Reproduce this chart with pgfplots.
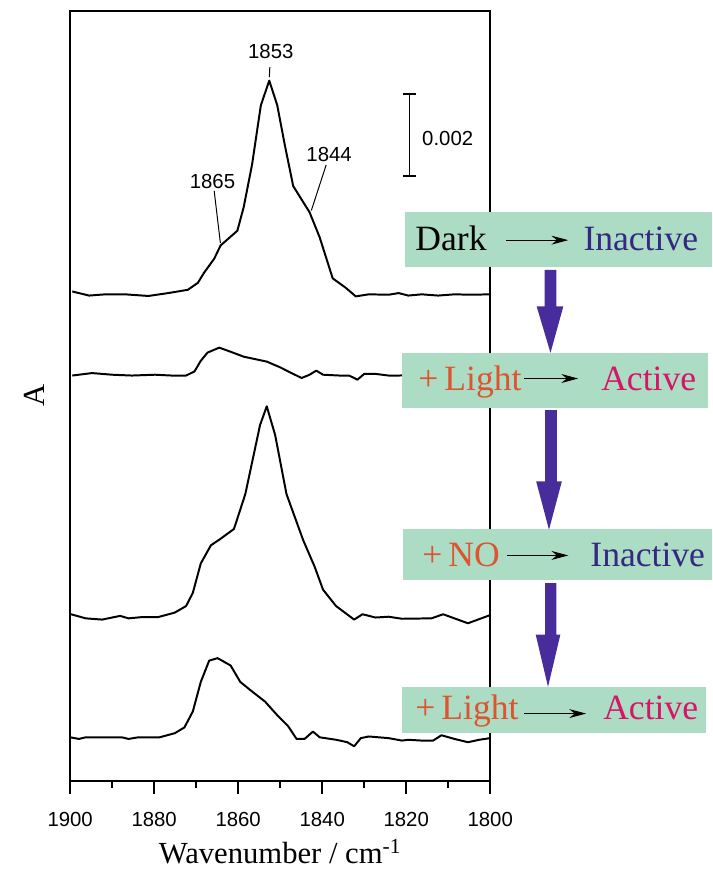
\documentclass[border=0pt]{standalone}
\usepackage{pgfplots}
\pgfplotsset{compat=1.18}
\usepackage{fontspec}
\setmainfont{Liberation Serif}
\setsansfont{Liberation Sans}
\usetikzlibrary{arrows.meta}
\definecolor{boxgreen}{RGB}{172,220,196}
\definecolor{inact}{RGB}{52,40,130}
\definecolor{lightc}{RGB}{222,84,48}
\definecolor{actc}{RGB}{214,20,104}
\definecolor{bigarrow}{RGB}{72,44,156}
\newcommand\boxfont{\fontsize{18}{20}\selectfont}
\newcommand\numfont{\sffamily\fontsize{10.3}{11}\selectfont}

\begin{document}
\begin{tikzpicture}
\begin{axis}[
  name=ax, at={(0,0)}, anchor=south west,
  scale only axis, width=212.5pt, height=389.5pt,
  xmin=1800, xmax=1900, x dir=reverse, ymin=0, ymax=18.771,
  xtick={1800,1820,1840,1860,1880,1900},
  minor xtick={1810,1830,1850,1870,1890},
  xtick pos=left, tick align=outside, ytick=\empty,
  major tick length=6.5pt, minor tick length=3.5pt,
  xtick style={line width=0.8pt, black},
  axis line style={line width=0.8pt},
  /pgf/number format/assume math mode=true,
  xticklabel style={font=\numfont, /pgf/number format/1000 sep={}, yshift=-6pt},
  xlabel={Wavenumber / cm\textsuperscript{-1}}, ylabel={A},
  label style={font=\fontsize{15.5}{16}\selectfont},
  xlabel style={at={(axis description cs:0.5,0)}, anchor=center, yshift=-36pt},
  ylabel style={at={(axis description cs:-0.0847,0.5)}, anchor=center},
]
% Dark
\addplot[black, line width=1pt, line join=round] coordinates {(1899.5,11.93)(1895.5,11.83)(1891.6,11.86)(1886.9,11.86)(1881.4,11.82)(1876.7,11.89)(1872.0,11.97)(1869.6,12.14)(1868.1,12.39)(1865.7,12.73)(1864.2,13.05)(1860.2,13.41)(1858.7,13.98)(1856.7,15.02)(1854.6,16.47)(1852.6,17.07)(1850.7,16.47)(1848.9,15.50)(1846.9,14.50)(1843.0,13.86)(1840.6,13.25)(1837.5,12.25)(1834.4,12.02)(1832.0,11.81)(1828.9,11.86)(1824.2,11.85)(1821.8,11.89)(1819.5,11.83)(1816.3,11.86)(1812.4,11.83)(1808.5,11.86)(1804.5,11.85)(1800.0,11.86)};
% + Light
\addplot[black, line width=1pt, line join=round] coordinates {(1899.5,9.88)(1894.8,9.94)(1890.0,9.90)(1885.3,9.88)(1879.8,9.90)(1875.9,9.88)(1872.4,9.88)(1870.4,9.98)(1868.9,10.24)(1867.3,10.44)(1864.5,10.56)(1861.8,10.46)(1858.7,10.34)(1853.2,10.22)(1850.0,10.08)(1847.7,9.96)(1844.9,9.82)(1843.0,9.90)(1841.4,10.00)(1839.8,9.90)(1835.9,9.88)(1833.6,9.88)(1831.6,9.78)(1830.0,9.92)(1827.3,9.92)(1824.2,9.88)(1821.8,9.88)(1815.0,9.90)(1808.0,9.86)(1800.0,9.88)};
% + NO
\addplot[black, line width=1pt, line join=round] coordinates {(1899.8,4.06)(1896.3,3.96)(1892.4,3.93)(1888.1,4.02)(1886.1,3.96)(1883.0,3.99)(1879.1,3.99)(1875.1,4.10)(1872.4,4.26)(1870.8,4.58)(1868.9,5.30)(1866.5,5.74)(1864.2,5.90)(1861.0,6.14)(1858.3,6.99)(1854.8,8.67)(1853.2,9.13)(1851.2,8.43)(1848.5,6.99)(1844.5,5.86)(1841.8,5.22)(1839.8,4.66)(1836.7,4.26)(1832.4,3.93)(1830.4,4.06)(1827.3,3.98)(1824.2,4.00)(1821.0,3.95)(1814.0,3.96)(1811.2,4.06)(1805.3,3.84)(1800.0,4.04)};
% + Light
\addplot[black, line width=1pt, line join=round] coordinates {(1900.0,1.06)(1897.9,1.02)(1896.3,1.06)(1887.7,1.06)(1886.1,1.02)(1883.8,1.06)(1878.7,1.06)(1875.1,1.16)(1872.8,1.30)(1870.8,1.69)(1868.9,2.41)(1866.9,2.93)(1864.9,2.99)(1861.8,2.81)(1859.5,2.41)(1857.1,2.21)(1853.6,1.93)(1850.8,1.61)(1848.1,1.33)(1846.1,1.02)(1844.2,1.02)(1842.2,1.20)(1840.6,1.06)(1836.7,1.00)(1834.0,0.94)(1832.4,0.84)(1830.8,1.04)(1828.9,1.08)(1824.2,1.04)(1821.0,0.98)(1819.5,1.00)(1816.3,0.98)(1813.6,0.98)(1811.6,1.11)(1808.5,1.02)(1805.3,0.94)(1802.6,1.00)(1800.0,1.04)};
\end{axis}

\begin{scope}[x=0.5pt, y=-0.5pt, shift={(-35.5pt,395pt)}]
\path (0,0) rectangle (721,871);
% tick marks below the axis
\foreach \t in {71,156,241,326,411,496} \draw[line width=0.8pt] (\t,790) -- (\t,803);
\foreach \t in {113.5,198.5,283.5,368.5,453.5} \draw[line width=0.8pt] (\t,790) -- (\t,797);
% peak labels
\begin{scope}[font=\numfont, line width=0.5pt]
\node at (274,52) {1853};
\draw (273,68) -- (272.5,78);
\node at (215,184) {1865};
\draw (216.7,193) -- (223,246);
\node at (333,156) {1844};
\draw (330,167) -- (315,213);
\draw[line width=0.7pt] (408,95) -- (421,95) (414.5,95) -- (414.5,178) (408,178) -- (421,178);
\node at (453,140) {0.002};
\end{scope}
% boxes
\fill[boxgreen] (410,215) rectangle (720,270);
\fill[boxgreen] (407,357) rectangle (716,413);
\fill[boxgreen] (408,535) rectangle (720,587);
\fill[boxgreen] (407,695) rectangle (714,742);
% big arrows
\fill[bigarrow] (551,273) -- (563,273) -- (563,310) -- (570,310) -- (557,357) -- (543,310) -- (551,310) -- cycle;
\fill[bigarrow] (551.5,415) -- (563.5,415) -- (563.5,487) -- (568.5,487) -- (555.5,536) -- (542.5,487) -- (551.5,487) -- cycle;
\fill[bigarrow] (551.5,590) -- (563,590) -- (563,642) -- (567,642) -- (554.5,695) -- (542,642) -- (551.5,642) -- cycle;
% texts
\begin{scope}[every node/.style={font=\boxfont, inner sep=0pt, anchor=base west}]
\node at (420,253) {Dark};
\node[text=inact] at (590,253) {Inactive};
\node[text=lightc] at (423,395) {+\,Light};
\node[text=actc] at (608,395) {Active};
\node[text=lightc] at (427,573) {+\,NO};
\node[text=inact] at (597,573) {Inactive};
\node[text=lightc] at (420,728) {+\,Light};
\node[text=actc] at (610,728) {Active};
\end{scope}
\begin{scope}[line width=0.6pt, -{Stealth[length=8.5pt,width=4.5pt]}]
\draw (512,243) -- (575,243);
\draw (530,383) -- (585,383);
\draw (513,562) -- (575,562);
\draw (530,722) -- (593,722);
\end{scope}
\end{scope}
\end{tikzpicture}
\end{document}
